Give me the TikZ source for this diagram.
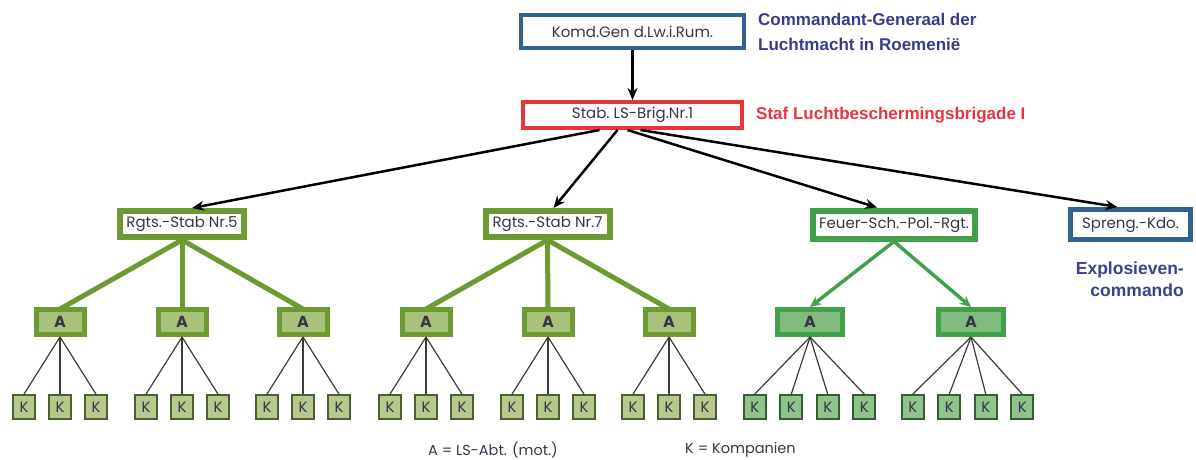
\documentclass[tikz,border=0pt]{standalone}
\usepackage{fontspec}
\setmainfont{Liberation Sans}
\newfontfamily\boxfont{Poppins}
\usetikzlibrary{arrows.meta}

\definecolor{cmdblue}{HTML}{33628F}
\definecolor{labelblue}{HTML}{3B3A8C}
\definecolor{stafred}{HTML}{E8343E}
\definecolor{olive}{HTML}{6E9A32}
\definecolor{olivefill}{HTML}{A9C27B}
\definecolor{kfill}{HTML}{B6C98C}
\definecolor{kedge}{HTML}{4E5E36}
\definecolor{fgreen}{HTML}{3FA24B}
\definecolor{fgreenfill}{HTML}{82BB80}
\definecolor{gkfill}{HTML}{8EC38C}
\definecolor{gkedge}{HTML}{355E35}
\definecolor{boxtext}{HTML}{3A3448}
\definecolor{twig}{HTML}{3C3C3C}

\tikzset{
  unit/.style={draw, inner sep=0pt, font=\boxfont\fontsize{15}{16}\selectfont, text=boxtext},
  cmdbox/.style={unit, fill=white, line width=4pt, draw=cmdblue},
  stafbox/.style={unit, fill=white, line width=4pt, draw=stafred},
  rgtbox/.style={unit, fill=white, line width=6pt, draw=olive, minimum width=124pt, minimum height=26pt},
  fbox/.style={unit, fill=white, line width=6pt, draw=fgreen, minimum width=162pt, minimum height=28pt},
  abox/.style={unit, font=\boxfont\bfseries\fontsize{16}{16}\selectfont, fill=olivefill, line width=5pt, draw=olive, minimum width=48pt, minimum height=25pt},
  gabox/.style={abox, fill=fgreenfill, draw=fgreen, minimum width=65pt},
  kbox/.style={unit, font=\boxfont\fontsize{15}{15}\selectfont, fill=kfill, line width=1.8pt, draw=kedge, minimum width=22pt, minimum height=24pt},
  gkbox/.style={kbox, fill=gkfill, draw=gkedge},
  mainarrow/.style={line width=2.5pt, -{Stealth[length=12pt,width=10pt]}},
  rgtline/.style={line width=5pt, draw=olive},
  farrow/.style={line width=3.5pt, draw=fgreen, -{Stealth[length=11pt,width=10pt]}},
  twigline/.style={line width=1.2pt, draw=twig},
  bluelabel/.style={font=\bfseries\fontsize{17}{25}\selectfont, text=labelblue, inner sep=0pt},
  legend/.style={font=\boxfont\fontsize{14.5}{15}\selectfont, text=boxtext, anchor=west, inner sep=0pt},
}

\begin{document}
\begin{tikzpicture}[x=1pt, y=-1pt]
\useasboundingbox (0,0) rectangle (1196,459);

% command level
\node[cmdbox, minimum width=223pt, minimum height=33pt] (komd) at (632.5,31.5) {Komd.Gen d.Lw.i.Rum.};
\node[bluelabel, anchor=north west, align=left] (komdlbl) at (758,13) {Commandant-Generaal der\\Luchtmacht in Roemeni\"e};

\node[stafbox, minimum width=219pt, minimum height=26pt] (stab) at (632.5,115) {Stab.\ LS-Brig.Nr.1};
\node[bluelabel, text=stafred, anchor=west] (stablbl) at (756,115) {Staf Luchtbeschermingsbrigade I};

% regiment level
\node[rgtbox] (r5) at (182,224) {Rgts.-Stab Nr.5};
\node[rgtbox] (r7) at (547.5,224) {Rgts.-Stab Nr.7};
\node[fbox] (fr) at (894,224.5) {Feuer-Sch.-Pol.-Rgt.};
\node[cmdbox, line width=5pt, minimum width=120pt, minimum height=30pt] (sp) at (1130.5,224.5) {Spreng.-Kdo.};
\node[bluelabel, font=\bfseries\fontsize{17.5}{22}\selectfont, text=labelblue!80!cmdblue, anchor=north east, align=right] (splbl) at (1184,262) {Explosieven-\\commando};

\draw[mainarrow] (komd.south) -- (stab.north);
\draw[mainarrow] ([xshift=-33pt]stab.south) -- ([xshift=10pt]r5.north);
\draw[mainarrow] ([xshift=-15pt]stab.south) -- ([xshift=6pt]r7.north);
\draw[mainarrow] ([xshift=-5pt]stab.south) -- ([xshift=-17pt]fr.north);
\draw[mainarrow] ([xshift=8pt]stab.south) -- ([xshift=-13pt]sp.north);

% detachments (A) and companies (K)
\foreach \name/\ax/\parent in {a1/60/r5, a2/182/r5, a3/303/r5, a4/426/r7, a5/548/r7, a6/669/r7}{
  \draw[rgtline] (\parent.south) -- (\ax,309);
  \node[abox] (\name) at (\ax,322) {A};
  \foreach \d [count=\i] in {-36,0,36}{
    \node[kbox] (\name k\i) at (\ax+\d,407) {K};
    \draw[twigline] (\name.south) -- (\name k\i.north);
  }
}
\foreach \name/\ax/\kx in {a7/810/809.5, a8/971/967.5}{
  \node[gabox] (\name) at (\ax,322) {A};
  \draw[farrow] (fr.south) -- (\name.north);
  \foreach \d [count=\i] in {-54.75,-18.25,18.25,54.75}{
    \node[gkbox] (\name k\i) at (\kx+\d,407) {K};
    \draw[twigline] (\name.south) -- (\name k\i.north);
  }
}

% legend
\node[legend] (legA) at (428,450) {A = LS-Abt. (mot.)};
\node[legend] (legK) at (685,450) {K = Kompanien};
\end{tikzpicture}
\end{document}
